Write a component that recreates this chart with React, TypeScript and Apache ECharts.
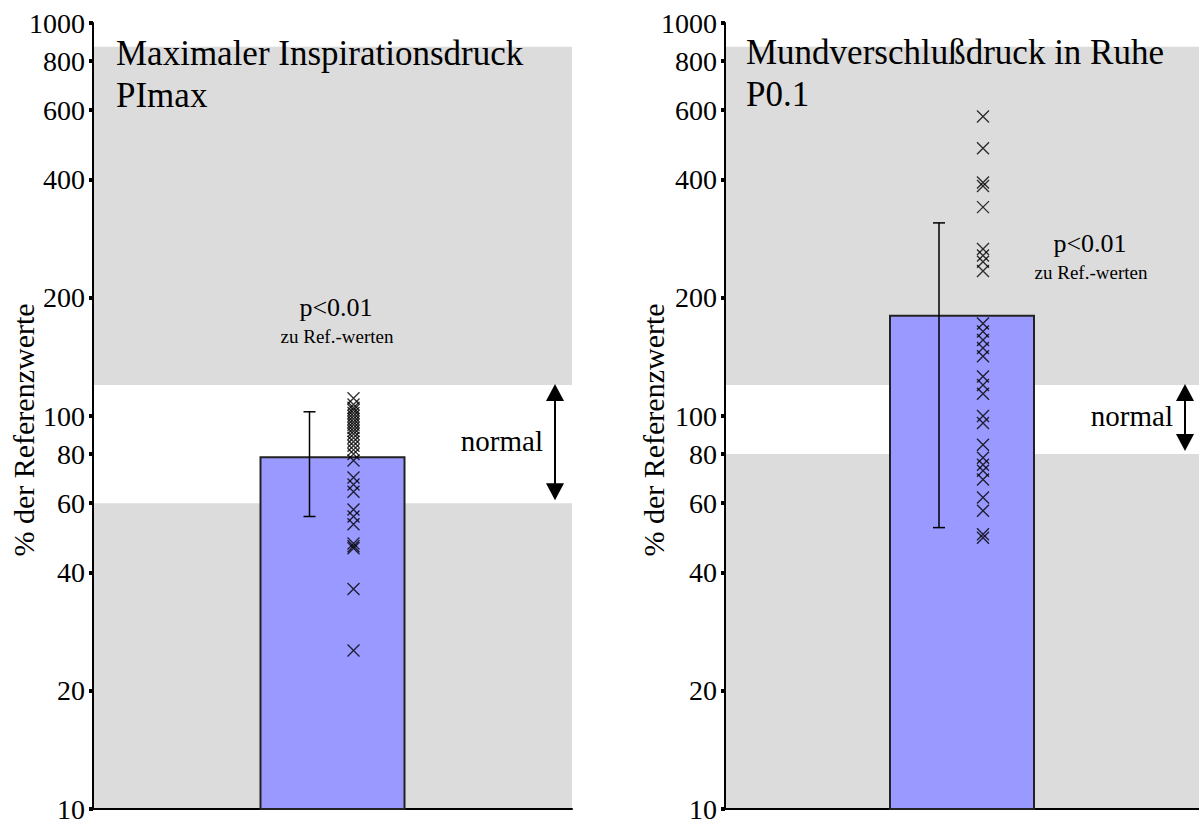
import React, { useEffect, useRef } from "react";
import * as echarts from "echarts";

// ---------- data ----------
const Y_MIN = 10;
const Y_MAX = 1000;
const TICK_VALUES = [10, 20, 40, 60, 80, 100, 200, 400, 600, 800, 1000];
const AXIS_NAME = "% der Referenzwerte";
const CATEGORIES = [""];
const BAND_TOP = 870;

const P1_TITLE = ["Maximaler Inspirationsdruck", "PImax"];
const P1_MEAN = [79];
const P1_SD = [23.5];
const P1_NORMAL = [60, 120];
const P1_POINTS = [
  111, 107, 105, 103.6, 101.8, 100, 98.3, 96.6, 95, 93.2, 91.6, 90, 88, 86, 84, 82, 80,
  77, 69.7, 66.9, 64.2, 57.8, 55.5, 53, 47.4, 46.6, 46.1, 36.3, 25.3,
];

const P2_TITLE = ["Mundverschlußdruck in Ruhe", "P0.1"];
const P2_MEAN = [181];
const P2_SD = [129];
const P2_NORMAL = [80, 120];
const P2_POINTS = [
  578, 480, 393, 385, 340, 266, 256, 247, 234, 172, 164, 156, 149, 142, 126, 120, 114,
  100, 96, 84.5, 78.3, 75.2, 72.6, 68.9, 62, 57.4, 49, 50,
];

const P_TEXT = "p<0.01";
const P_SUB = "zu Ref.-werten";
const NORMAL_TEXT = "normal";

// ---------- styles ----------
const FONT = "'Liberation Serif', 'Times New Roman', serif";
const GREY = "#DCDCDC";
const BAR_COLOR = "#9999FF";

const CROSS = "path://M0 0L10 10M10 0L0 10";

function panelSeries(
  gi: number,
  mean: number[],
  sd: number[],
  normal: number[],
  points: number[],
  arrowInset: number
) {
  const bands = [
    [0, Y_MIN, normal[0]],
    [0, normal[1], BAND_TOP],
  ];
  const err = mean.map((m, i) => [i, m - sd[i], m + sd[i], m]);
  return [
    {
      type: "custom",
      xAxisIndex: gi,
      yAxisIndex: gi,
      z: 0,
      silent: true,
      encode: { x: 0, y: [1, 2] },
      data: bands,
      renderItem: (params: any, api: any) => {
        const cs = params.coordSys;
        const yLow = api.coord([0, api.value(1)])[1];
        const yHigh = api.coord([0, api.value(2)])[1];
        return {
          type: "rect",
          shape: { x: cs.x, y: yHigh, width: cs.width, height: yLow - yHigh },
          style: { fill: GREY },
        };
      },
    },
    {
      type: "bar",
      xAxisIndex: gi,
      yAxisIndex: gi,
      z: 2,
      barWidth: 146,
      data: mean,
      itemStyle: { color: BAR_COLOR, borderColor: "#222", borderWidth: 2 },
    },
    {
      type: "custom",
      xAxisIndex: gi,
      yAxisIndex: gi,
      z: 3,
      clip: false,
      encode: { x: 0, y: [1, 2] },
      data: err,
      renderItem: (params: any, api: any) => {
        const x = api.coord([api.value(0), api.value(3)])[0] - 23;
        const yTop = api.coord([0, api.value(2)])[1];
        const yBot = api.coord([0, api.value(1)])[1];
        const st = { stroke: "#000", lineWidth: 1.5 };
        return {
          type: "group",
          children: [
            { type: "line", shape: { x1: x, y1: yTop, x2: x, y2: yBot }, style: st },
            { type: "line", shape: { x1: x - 6, y1: yTop, x2: x + 6, y2: yTop }, style: st },
            { type: "line", shape: { x1: x - 6, y1: yBot, x2: x + 6, y2: yBot }, style: st },
          ],
        };
      },
    },
    {
      type: "scatter",
      xAxisIndex: gi,
      yAxisIndex: gi,
      z: 4,
      symbol: CROSS,
      symbolSize: 12,
      symbolOffset: [21, 0],
      data: points.map((v) => [0, v]),
      itemStyle: { color: "transparent", borderColor: "#000", borderWidth: 1.4 },
    },
    {
      type: "custom",
      xAxisIndex: gi,
      yAxisIndex: gi,
      z: 5,
      clip: false,
      encode: { x: 0, y: [1, 2] },
      data: [[0, normal[0], normal[1]]],
      renderItem: (params: any, api: any) => {
        const cs = params.coordSys;
        const x = cs.x + cs.width - arrowInset;
        const yTop = api.coord([0, api.value(2)])[1] - 1;
        const yBot = api.coord([0, api.value(1)])[1] - 3;
        const hw = 9;
        const hh = 17;
        return {
          type: "group",
          children: [
            {
              type: "line",
              shape: { x1: x, y1: yTop + hh - 2, x2: x, y2: yBot - hh + 2 },
              style: { stroke: "#000", lineWidth: 2 },
            },
            {
              type: "polygon",
              shape: { points: [[x, yTop], [x - hw, yTop + hh], [x + hw, yTop + hh]] },
              style: { fill: "#000" },
            },
            {
              type: "polygon",
              shape: { points: [[x, yBot], [x - hw, yBot - hh], [x + hw, yBot - hh]] },
              style: { fill: "#000" },
            },
            {
              type: "text",
              x: x - 12,
              y: (yTop + yBot) / 2 - 1,
              style: {
                text: NORMAL_TEXT,
                font: `29px ${FONT}`,
                fill: "#000",
                align: "right",
                verticalAlign: "middle",
              },
            },
          ],
        };
      },
    },
  ];
}

function yAxisDef(gi: number) {
  return {
    type: "log",
    logBase: 10,
    gridIndex: gi,
    min: Y_MIN,
    max: Y_MAX,
    axisLine: { show: true, lineStyle: { color: "#000", width: 2 } },
    axisTick: {
      show: true,
      customValues: TICK_VALUES,
      length: 4,
      lineStyle: { color: "#000", width: 4 },
    },
    axisLabel: {
      customValues: TICK_VALUES,
      margin: 8,
      color: "#000",
      fontFamily: FONT,
      fontSize: 28,
      formatter: (v: number) => String(Math.round(v)),
    },
    splitLine: { show: false },
    minorTick: { show: false },
  };
}

function xAxisDef(gi: number) {
  return {
    type: "category",
    gridIndex: gi,
    data: CATEGORIES,
    axisLine: { show: true, lineStyle: { color: "#000", width: 2 } },
    axisTick: { show: false },
    axisLabel: { show: false },
    splitLine: { show: false },
  };
}

function textEl(text: string, x: number, y: number, size: number, align = "left", rotation = 0) {
  return {
    type: "text",
    x,
    y,
    rotation,
    style: {
      text,
      font: `${size}px ${FONT}`,
      fill: "#000",
      align,
      verticalAlign: "middle",
    },
    z: 10,
  };
}

export default function App() {
  const ref = useRef<HTMLDivElement>(null);
  useEffect(() => {
    if (!ref.current) return;
    const chart = echarts.init(ref.current, undefined, { renderer: "svg" });
    chart.setOption({
      animation: false,
      backgroundColor: "#fff",
      grid: [
        { left: 93, right: 627, top: 23, bottom: 10 },
        { left: 725, right: 0, top: 23, bottom: 10 },
      ],
      xAxis: [xAxisDef(0), xAxisDef(1)],
      yAxis: [yAxisDef(0), yAxisDef(1)],
      series: [
        ...panelSeries(0, P1_MEAN, P1_SD, P1_NORMAL, P1_POINTS, 17),
        ...panelSeries(1, P2_MEAN, P2_SD, P2_NORMAL, P2_POINTS, 14),
      ],
      graphic: [
        textEl(P1_TITLE[0], 116, 53, 35),
        textEl(P1_TITLE[1], 116, 95, 35),
        textEl(P2_TITLE[0], 746, 52, 35),
        textEl(P2_TITLE[1], 746, 94, 35),
        textEl(P_TEXT, 336, 307, 26, "center"),
        textEl(P_SUB, 337, 336, 19, "center"),
        textEl(P_TEXT, 1090, 243, 26, "center"),
        textEl(P_SUB, 1091, 272, 19, "center"),
        textEl(AXIS_NAME, 23, 430, 30, "center", Math.PI / 2),
        textEl(AXIS_NAME, 653, 430, 30, "center", Math.PI / 2),
      ],
    });
    return () => chart.dispose();
  }, []);
  return (
    <div
      ref={ref}
      style={{ position: "absolute", left: 0, top: 0, width: 1199, height: 823 }}
    />
  );
}
